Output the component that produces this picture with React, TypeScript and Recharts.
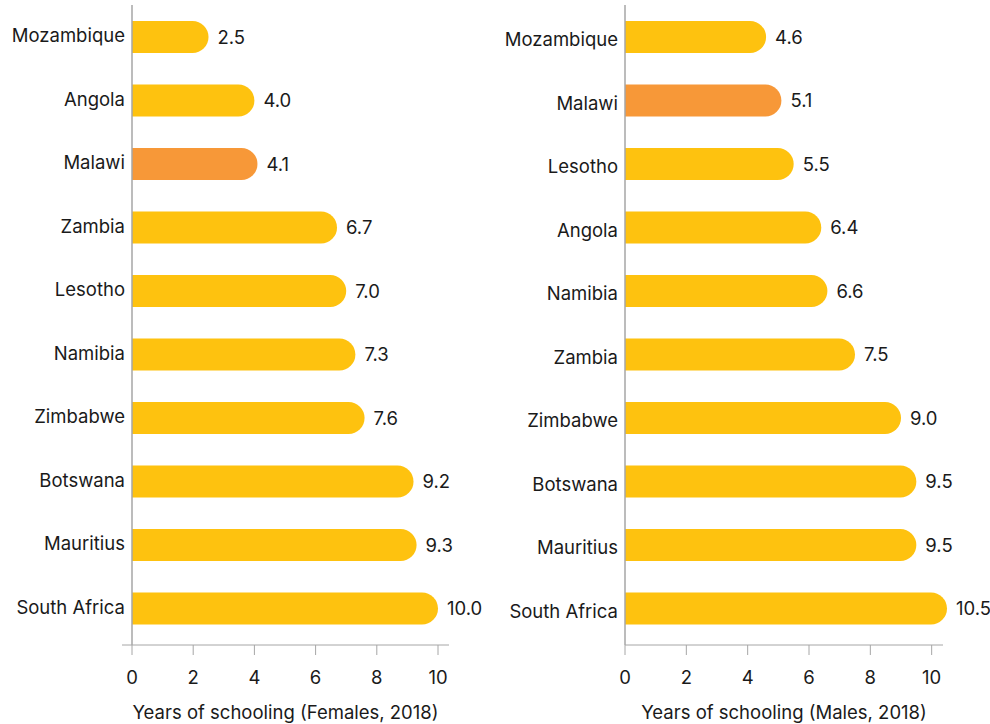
import { BarChart, Bar, XAxis, YAxis, Cell, LabelList, ReferenceLine } from 'recharts';

const femaleCountries = ['Mozambique', 'Angola', 'Malawi', 'Zambia', 'Lesotho', 'Namibia', 'Zimbabwe', 'Botswana', 'Mauritius', 'South Africa'];
const femaleYears = [2.5, 4.0, 4.1, 6.7, 7.0, 7.3, 7.6, 9.2, 9.3, 10.0];

const maleCountries = ['Mozambique', 'Malawi', 'Lesotho', 'Angola', 'Namibia', 'Zambia', 'Zimbabwe', 'Botswana', 'Mauritius', 'South Africa'];
const maleYears = [4.6, 5.1, 5.5, 6.4, 6.6, 7.5, 9.0, 9.5, 9.5, 10.5];

const xTicks = [0, 2, 4, 6, 8, 10];
const HIGHLIGHT = 'Malawi';

const YELLOW = '#FEC20F';
const ORANGE = '#F79838';
const AXIS = '#a6a6a6';
const TEXT = '#1a1a1a';
const FONT_SIZE = 18.5;

interface PanelProps {
  countries: string[];
  values: number[];
  title: string;
  left: number;
  width: number;
  yAxisWidth: number;
  marginRight: number;
  tickMargin: number;
  tickDy: number;
  domain: [number, number];
  padding: { left: number; right: number };
}

function Panel({ countries, values, title, left, width, yAxisWidth, marginRight, tickMargin, tickDy, domain, padding }: PanelProps) {
  const data = countries.map((name, i) => ({ name, value: values[i] }));

  return (
    <div style={{ position: 'absolute', left, top: 0 }}>
      <BarChart
        width={width}
        height={724}
        data={data}
        layout="vertical"
        margin={{ top: 5, right: marginRight, left: 0, bottom: 0 }}
      >
        <XAxis
          type="number"
          domain={domain}
          ticks={xTicks}
          padding={padding}
          height={79}
          stroke={AXIS}
          tickSize={10}
          tickMargin={16}
          tick={{ fontSize: FONT_SIZE, fill: TEXT }}
          label={{ value: title, position: 'insideBottom', offset: 5, fontSize: FONT_SIZE, fill: TEXT }}
        />
        <YAxis
          type="category"
          dataKey="name"
          width={yAxisWidth}
          axisLine={false}
          tickLine={false}
          tickSize={0}
          tickMargin={tickMargin}
          padding={{ top: 0, bottom: 5 }}
          interval={0}
          tick={{ fontSize: FONT_SIZE, fill: TEXT, dy: tickDy }}
        />
        <ReferenceLine x={0} stroke={AXIS} strokeWidth={1.5} />
        <Bar dataKey="value" barSize={32} radius={[0, 16, 16, 0]} isAnimationActive={false}>
          {data.map((d) => (
            <Cell key={d.name} fill={d.name === HIGHLIGHT ? ORANGE : YELLOW} />
          ))}
          <LabelList
            dataKey="value"
            position="right"
            offset={9}
            fontSize={FONT_SIZE}
            fill={TEXT}
            formatter={(v: any) => Number(v).toFixed(1)}
          />
        </Bar>
      </BarChart>
    </div>
  );
}

export default function App() {
  return (
    <div style={{ position: 'absolute', left: 0, top: 0, width: 990, height: 724, background: '#fff', fontFamily: 'Inter, sans-serif' }}>
      <Panel
        countries={femaleCountries}
        values={femaleYears}
        title="Years of schooling (Females, 2018)"
        left={0}
        width={490}
        yAxisWidth={122}
        marginRight={41}
        tickMargin={-3}
        tickDy={-1}
        domain={[0, 10]}
        padding={{ left: 10, right: 11 }}
      />
      <Panel
        countries={maleCountries}
        values={maleYears}
        title="Years of schooling (Males, 2018)"
        left={490}
        width={500}
        yAxisWidth={135}
        marginRight={47}
        tickMargin={7}
        tickDy={3}
        domain={[0, 10.5]}
        padding={{ left: 0, right: -4 }}
      />
    </div>
  );
}
